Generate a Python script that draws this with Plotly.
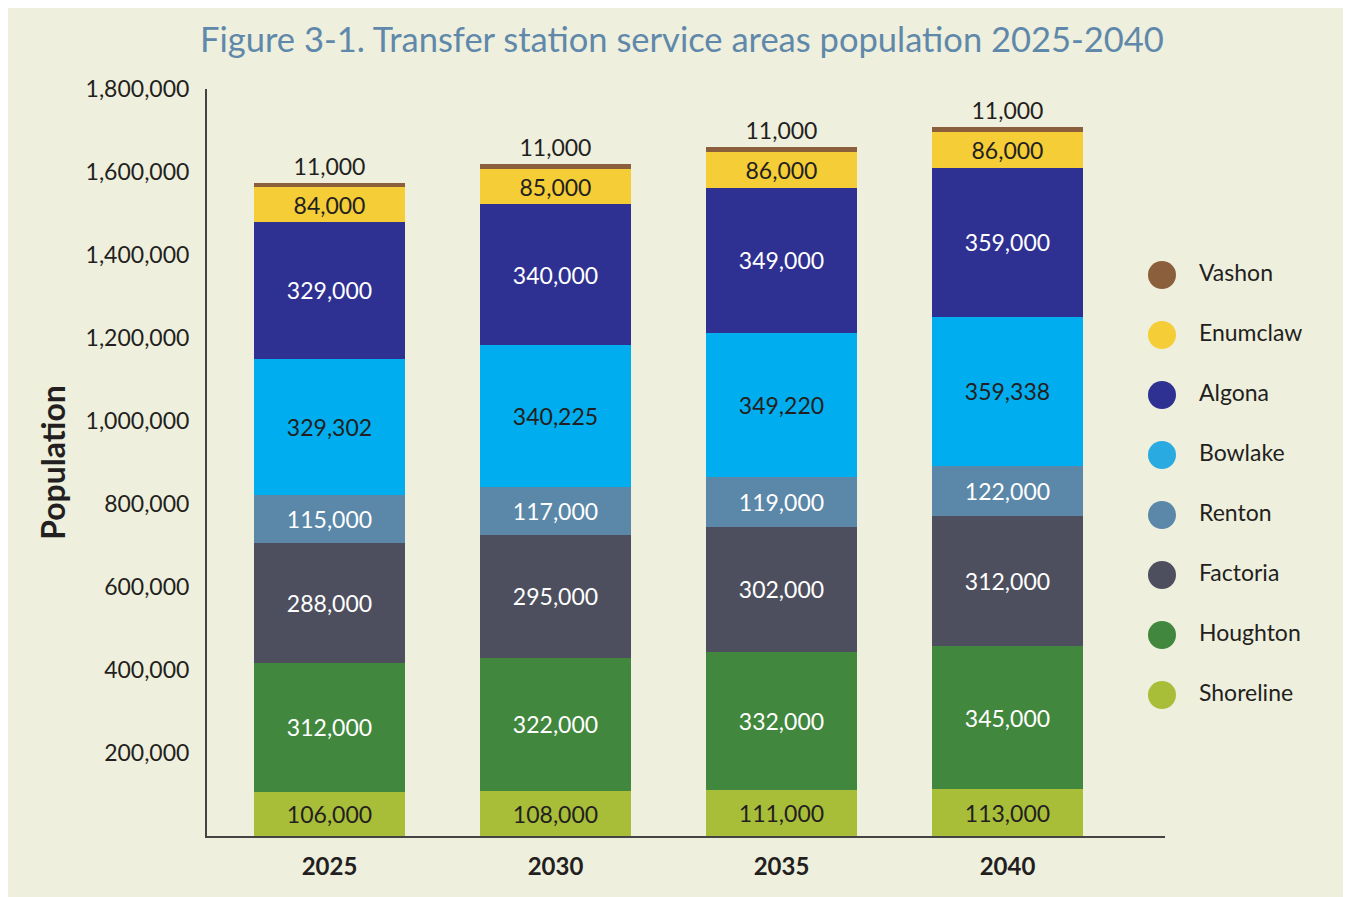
import plotly.graph_objects as go

years = ["2025", "2030", "2035", "2040"]
series_names = ["Shoreline", "Houghton", "Factoria", "Renton", "Bowlake", "Algona", "Enumclaw", "Vashon"]
shoreline = [106000, 108000, 111000, 113000]
houghton = [312000, 322000, 332000, 345000]
factoria = [288000, 295000, 302000, 312000]
renton = [115000, 117000, 119000, 122000]
bowlake = [329302, 340225, 349220, 359338]
algona = [329000, 340000, 349000, 359000]
enumclaw = [84000, 85000, 86000, 86000]
vashon = [11000, 11000, 11000, 11000]
values = [shoreline, houghton, factoria, renton, bowlake, algona, enumclaw, vashon]

colors = ["#A9BE38", "#41873D", "#4D4F5E", "#5B87A8", "#00AEEF", "#2E3192", "#F5CD36", "#8B5E3C"]
legend_colors = ["#A9BE38", "#41873D", "#4D4F5E", "#5B87A8", "#29ABE2", "#2E3192", "#F5CD36", "#8B5E3C"]
text_colors = ["#231F20", "#FFFFFF", "#FFFFFF", "#FFFFFF", "#231F20", "#FFFFFF", "#231F20", "#231F20"]
y_ticks = [200000, 400000, 600000, 800000, 1000000, 1200000, 1400000, 1600000, 1800000]

FONT = "Lato"
DARK = "#231F20"
BG = "#EEEFDD"

fig = go.Figure()
for i, (name, vals) in enumerate(zip(series_names, values)):
    fig.add_trace(go.Bar(
        x=years, y=vals, name=name,
        marker=dict(color=colors[i], line=dict(width=0)),
        texttemplate="%{y:,.0f}",
        textposition="outside" if name == "Vashon" else "inside",
        insidetextanchor="middle",
        textfont=dict(family=FONT, size=23, color=text_colors[i]),
        showlegend=False, cliponaxis=False,
        hovertemplate=name + ": %{y:,}<extra></extra>",
    ))

# custom legend (circles + labels), drawn on a secondary axis pair
leg_order = series_names  # bottom-to-top on category axis
fig.add_trace(go.Scatter(
    x=[0] * len(leg_order), y=leg_order, mode="markers",
    marker=dict(size=28, color=legend_colors, line=dict(width=0)),
    xaxis="x2", yaxis="y2", showlegend=False, cliponaxis=False, hoverinfo="skip",
))
fig.add_trace(go.Scatter(
    x=[1] * len(leg_order), y=leg_order, mode="text", text=leg_order,
    textposition="middle right",
    textfont=dict(family=FONT, size=23, color=DARK),
    xaxis="x2", yaxis="y2", showlegend=False, cliponaxis=False, hoverinfo="skip",
))

fig.update_layout(
    width=1351, height=889,
    margin=dict(l=199, r=28, t=81, b=61),
    paper_bgcolor=BG,
    plot_bgcolor=BG,
    barmode="stack",
    bargap=0.332,
    font=dict(family=FONT, color=DARK),
    uniformtext=dict(minsize=23, mode="show"),
    title=dict(
        text="Figure 3-1. Transfer station service areas population 2025-2040",
        font=dict(family=FONT, size=34.5, color="#5F88AA"),
        x=674 / 1351, xanchor="center", xref="container",
        y=0.964, yanchor="middle", yref="container",
    ),
    xaxis=dict(
        domain=[0, 0.85231],
        type="category", range=[-0.542, 3.697],
        showline=True, linecolor="#444444", linewidth=2,
        showgrid=False, zeroline=False,
        ticks="outside", ticklen=8, tickcolor="rgba(0,0,0,0)",
        tickfont=dict(family=FONT, size=24, color=DARK, weight="bold"),
    ),
    yaxis=dict(
        range=[0, 1800000],
        tickvals=y_ticks, tickformat=",.0f",
        showline=True, linecolor="#444444", linewidth=2,
        showgrid=False, zeroline=False,
        ticks="outside", ticklen=11, tickcolor="rgba(0,0,0,0)",
        tickfont=dict(family=FONT, size=23, color=DARK),
        title=dict(text="Population", standoff=10,
                   font=dict(family=FONT, size=32, color=DARK, weight="bold")),
    ),
    xaxis2=dict(domain=[0.8, 1.0], range=[-1.508, 4.568], visible=False, anchor="y2"),
    yaxis2=dict(domain=[0, 1], type="category", categoryorder="array",
                categoryarray=leg_order, range=[-2.35, 10.1], visible=False, anchor="x2"),
)

fig.write_html("out.html")
